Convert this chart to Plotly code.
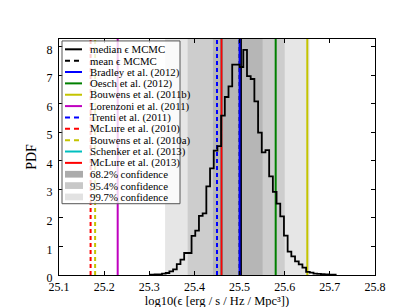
import numpy as np
import plotly.graph_objects as go

# ---------------- data ----------------
hist_start = 25.3036
hist_width = 0.008186
pdf_values = [0.01, 0.02, 0.02, 0.05, 0.07, 0.13, 0.20, 0.38, 0.54, 0.77,
              0.77, 1.37, 1.55, 2.07, 2.16, 3.10, 3.73, 4.35, 4.51, 5.58,
              6.23, 6.60, 7.36, 7.36, 7.28, 7.88, 6.96, 6.86, 6.08, 4.98,
              4.29, 4.37, 3.45, 2.91, 2.50, 2.05, 1.38, 0.82, 0.65, 0.48,
              0.37, 0.26, 0.11, 0.08, 0.05, 0.04, 0.03, 0.02, 0.01, 0.01]

line_labels = ["median \u03f5 MCMC", "mean \u03f5 MCMC", "Bradley et al. (2012)",
               "Oesch et al. (2012)", "Bouwens et al. (2011b)", "Lorenzoni et al. (2011)",
               "Trenti et al. (2011)", "McLure et al. (2010)", "Bouwens et al. (2010a)",
               "Schenker et al. (2013)", "McLure et al. (2013)"]
line_values = [25.503, 25.50, 25.50, 25.58, 25.65, 25.23, 25.45, 25.17, 25.18, 25.46, 25.46]
line_colors = ["#000000", "#000000", "#0000ff", "#008000", "#c4c400", "#bf00bf",
               "#0000ff", "#ff0000", "#c4c400", "#00bfbf", "#ff0000"]
line_dashes = ["solid", "dash", "solid", "solid", "solid", "solid",
               "dash", "dash", "dash", "solid", "solid"]

conf_labels = ["68.2% confidence", "95.4% confidence", "99.7% confidence"]
conf_lo = [25.441, 25.385, 25.335]
conf_hi = [25.551, 25.600, 25.655]
conf_colors = ["#b6b6b6", "#cdcdcd", "#e6e6e6"]
conf_legend_colors = ["#ababab", "#c8c8c8", "#e2e2e2"]

x_ticks = [25.1, 25.2, 25.3, 25.4, 25.5, 25.6, 25.7, 25.8]
x_ticklabels = ["25.1", "25.2", "25.3", "25.4", "25.5", "25.6", "25.7", "25.8"]
y_ticks = [0, 1, 2, 3, 4, 5, 6, 7, 8]
y_max = 8.26
x_title = "log10(\u03f5 [erg / s / Hz / Mpc\u00b3])"
y_title = "PDF"

FONT = "Liberation Serif"

fig = go.Figure()

# confidence regions (drawn largest first)
for lo, hi, col in reversed(list(zip(conf_lo, conf_hi, conf_colors))):
    fig.add_shape(type="rect", xref="x", yref="paper", x0=lo, x1=hi, y0=0, y1=1,
                  fillcolor=col, line_width=0, layer="below")

# vertical reference lines
for lab, val, col, dash in zip(line_labels, line_values, line_colors, line_dashes):
    fig.add_trace(go.Scatter(x=[val, val], y=[0, y_max], mode="lines", name=lab,
                             line=dict(color=col, width=2,
                                       dash="4px,3px" if dash == "dash" else "solid"),
                             showlegend=False, hoverinfo="skip"))

# step histogram
edges = hist_start + hist_width * np.arange(len(pdf_values) + 1)
hx = [edges[0]] + list(edges[:-1]) + [edges[-1]]
hy = [0] + list(pdf_values) + [0]
fig.add_trace(go.Scatter(x=hx, y=hy, mode="lines", line_shape="hv",
                         line=dict(color="black", width=1.8), showlegend=False))

# ---------------- manual legend ----------------
L, R, T, B = 51, 367, 31, 276
W, H = R - L, B - T
def px(x):
    return (x - L) / W
def py(y):
    return (B - y) / H

fig.add_shape(type="rect", xref="paper", yref="paper",
              x0=px(54), x1=px(172), y0=py(202), y1=py(33),
              fillcolor="rgba(255,255,255,0.8)", line=dict(color="#555555", width=1),
              layer="above")
row0, dy = 41.7, 11.79
all_labels = line_labels + conf_labels
for i, lab in enumerate(all_labels):
    yc = row0 + dy * i
    if i < len(line_labels):
        fig.add_shape(type="line", xref="paper", yref="paper",
                      x0=px(57), x1=px(74), y0=py(yc), y1=py(yc),
                      line=dict(color=line_colors[i], width=2,
                                dash="5px,4px" if line_dashes[i] == "dash" else "solid"),
                      layer="above")
    else:
        j = i - len(line_labels)
        fig.add_shape(type="rect", xref="paper", yref="paper",
                      x0=px(57), x1=px(75), y0=py(yc + 3.5), y1=py(yc - 3.5),
                      fillcolor=conf_legend_colors[j], line_width=0, layer="above")
    fig.add_annotation(x=px(80), y=py(yc), xref="paper", yref="paper", text=lab,
                       showarrow=False, xanchor="left", yanchor="middle",
                       font=dict(family=FONT, size=10.8, color="black"))

fig.update_layout(
    width=407, height=307,
    margin=dict(l=L, r=407 - R, t=T, b=307 - B),
    paper_bgcolor="white", plot_bgcolor="white",
    font=dict(family=FONT, color="black"),
)
fig.update_xaxes(range=[25.1, 25.8], tickvals=x_ticks, ticktext=x_ticklabels,
                 ticks="inside", ticklen=4, tickcolor="black", mirror="allticks",
                 showline=True, linecolor="black", linewidth=1, showgrid=False,
                 zeroline=False, tickfont=dict(family=FONT, size=12),
                 ticklabelstandoff=1,
                 title=dict(text=x_title, font=dict(family=FONT, size=12.5), standoff=0))
fig.update_yaxes(range=[0, y_max], tickvals=y_ticks, ticks="inside", ticklen=4,
                 tickcolor="black", mirror="allticks", showline=True, linecolor="black",
                 linewidth=1, showgrid=False, zeroline=False,
                 tickfont=dict(family=FONT, size=12), ticklabelstandoff=3,
                 ticklabelshift=3,
                 title=dict(text=y_title, font=dict(family=FONT, size=14), standoff=6))

fig.write_html("out.html")
